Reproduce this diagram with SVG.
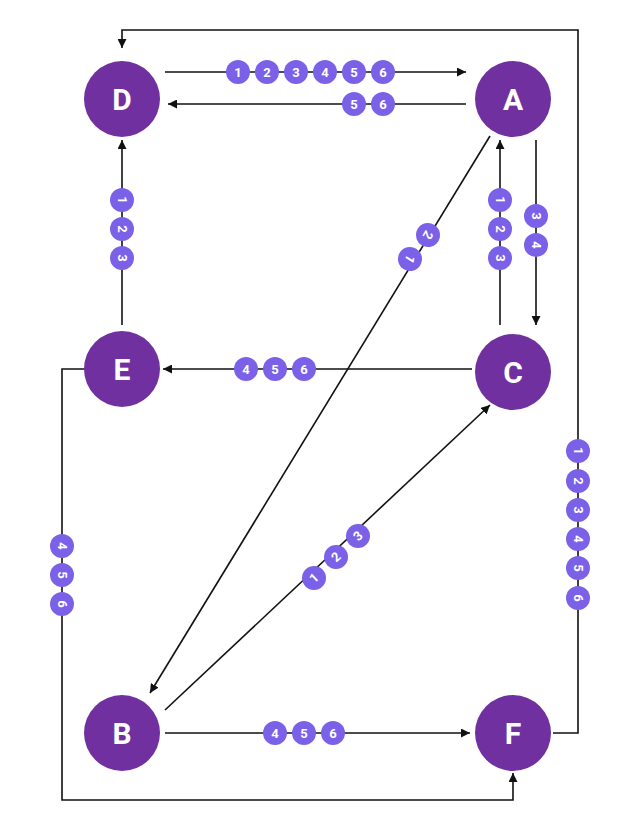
<svg xmlns="http://www.w3.org/2000/svg" width="640" height="831" viewBox="0 0 640 831">
<style>
.n{fill:#7030A0}
.nt{fill:#fff;font-family:Roboto,"Liberation Sans",sans-serif;font-weight:bold;font-size:30px;text-anchor:middle;dominant-baseline:central}
.b{fill:#7B61E8}
.bt{fill:#fff;font-family:Roboto,"Liberation Sans",sans-serif;font-weight:bold;font-size:13px;text-anchor:middle;dominant-baseline:central}
.l{fill:none;stroke:#111;stroke-width:1.6}
</style>
<defs>
<marker id="ar" viewBox="0 0 10 10" refX="10" refY="5" markerWidth="9" markerHeight="9" markerUnits="userSpaceOnUse" orient="auto"><path d="M0,0L10,5L0,10z" fill="#111"/></marker>
<g id="bd"><circle class="b" r="12"/></g>
</defs>
<rect width="640" height="831" fill="#fff"/>
<g id="connectors">
<path class="l" d="M165,72H466" marker-end="url(#ar)"/>
<path class="l" d="M466,104H168" marker-end="url(#ar)"/>
<path class="l" d="M553,733H578V30H122V48" marker-end="url(#ar)"/>
<path class="l" d="M122,325V140" marker-end="url(#ar)"/>
<path class="l" d="M472,369H163" marker-end="url(#ar)"/>
<path class="l" d="M84,369H62V800H513V773" marker-end="url(#ar)"/>
<path class="l" d="M500,325V140" marker-end="url(#ar)"/>
<path class="l" d="M536,140V325" marker-end="url(#ar)"/>
<path class="l" d="M490,136L150,693" marker-end="url(#ar)"/>
<path class="l" d="M165,710L490,405" marker-end="url(#ar)"/>
<path class="l" d="M165,733H470" marker-end="url(#ar)"/>
</g>
<g id="labels">
<g transform="translate(238,72)"><circle class="b" r="12"/><text class="bt">1</text></g>
<g transform="translate(267,72)"><circle class="b" r="12"/><text class="bt">2</text></g>
<g transform="translate(296,72)"><circle class="b" r="12"/><text class="bt">3</text></g>
<g transform="translate(325,72)"><circle class="b" r="12"/><text class="bt">4</text></g>
<g transform="translate(354,72)"><circle class="b" r="12"/><text class="bt">5</text></g>
<g transform="translate(383,72)"><circle class="b" r="12"/><text class="bt">6</text></g>
<g transform="translate(354,104)"><circle class="b" r="12"/><text class="bt">5</text></g>
<g transform="translate(383,104)"><circle class="b" r="12"/><text class="bt">6</text></g>
<g transform="translate(578,451) rotate(90)"><circle class="b" r="12"/><text class="bt">1</text></g>
<g transform="translate(578,481) rotate(90)"><circle class="b" r="12"/><text class="bt">2</text></g>
<g transform="translate(578,510) rotate(90)"><circle class="b" r="12"/><text class="bt">3</text></g>
<g transform="translate(578,539) rotate(90)"><circle class="b" r="12"/><text class="bt">4</text></g>
<g transform="translate(578,568) rotate(90)"><circle class="b" r="12"/><text class="bt">5</text></g>
<g transform="translate(578,598) rotate(90)"><circle class="b" r="12"/><text class="bt">6</text></g>
<g transform="translate(122,200) rotate(90)"><circle class="b" r="12"/><text class="bt">1</text></g>
<g transform="translate(122,229) rotate(90)"><circle class="b" r="12"/><text class="bt">2</text></g>
<g transform="translate(122,258) rotate(90)"><circle class="b" r="12"/><text class="bt">3</text></g>
<g transform="translate(246,369)"><circle class="b" r="12"/><text class="bt">4</text></g>
<g transform="translate(275,369)"><circle class="b" r="12"/><text class="bt">5</text></g>
<g transform="translate(304,369)"><circle class="b" r="12"/><text class="bt">6</text></g>
<g transform="translate(62,546) rotate(90)"><circle class="b" r="12"/><text class="bt">4</text></g>
<g transform="translate(62,575) rotate(90)"><circle class="b" r="12"/><text class="bt">5</text></g>
<g transform="translate(62,604) rotate(90)"><circle class="b" r="12"/><text class="bt">6</text></g>
<g transform="translate(500,200) rotate(90)"><circle class="b" r="12"/><text class="bt">1</text></g>
<g transform="translate(500,229) rotate(90)"><circle class="b" r="12"/><text class="bt">2</text></g>
<g transform="translate(500,258) rotate(90)"><circle class="b" r="12"/><text class="bt">3</text></g>
<g transform="translate(536,216) rotate(90)"><circle class="b" r="12"/><text class="bt">3</text></g>
<g transform="translate(536,245) rotate(90)"><circle class="b" r="12"/><text class="bt">4</text></g>
<g transform="translate(410,259) rotate(121)"><circle class="b" r="12"/><text class="bt">1</text></g>
<g transform="translate(428,235) rotate(121)"><circle class="b" r="12"/><text class="bt">2</text></g>
<g transform="translate(314,578) rotate(-43)"><circle class="b" r="12"/><text class="bt">1</text></g>
<g transform="translate(336,557) rotate(-43)"><circle class="b" r="12"/><text class="bt">2</text></g>
<g transform="translate(358,536) rotate(-43)"><circle class="b" r="12"/><text class="bt">3</text></g>
<g transform="translate(275,733)"><circle class="b" r="12"/><text class="bt">4</text></g>
<g transform="translate(304,733)"><circle class="b" r="12"/><text class="bt">5</text></g>
<g transform="translate(333,733)"><circle class="b" r="12"/><text class="bt">6</text></g>
</g>
<g id="D"><circle class="n" cx="122" cy="99" r="38"/><text class="nt" x="122" y="99">D</text></g>
<g id="A"><circle class="n" cx="513" cy="99" r="38"/><text class="nt" x="513" y="99">A</text></g>
<g id="E"><circle class="n" cx="122" cy="369" r="38"/><text class="nt" x="122" y="369">E</text></g>
<g id="C"><circle class="n" cx="513" cy="372" r="38"/><text class="nt" x="513" y="372">C</text></g>
<g id="B"><circle class="n" cx="122" cy="733" r="38"/><text class="nt" x="122" y="733">B</text></g>
<g id="F"><circle class="n" cx="513" cy="733" r="38"/><text class="nt" x="513" y="733">F</text></g>
</svg>
